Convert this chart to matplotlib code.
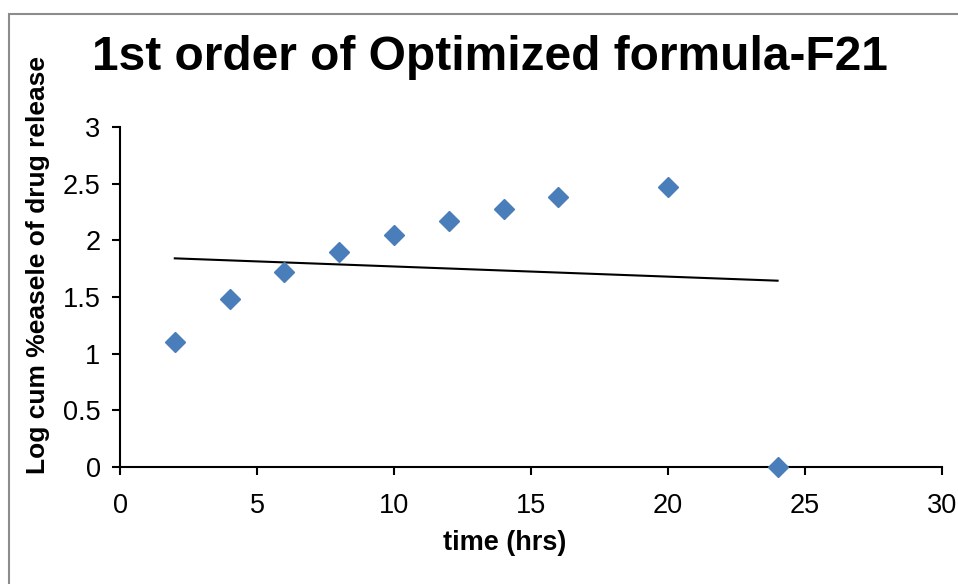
import numpy as np
import matplotlib.pyplot as plt
from matplotlib.patches import Rectangle

plt.rcParams['font.family'] = ['Liberation Sans', 'DejaVu Sans']

# data
time_hrs = [2, 4, 6, 8, 10, 12, 14, 16, 20, 24]
log_release = [1.10, 1.48, 1.72, 1.90, 2.05, 2.17, 2.28, 2.38, 2.47, 0.0]
x_ticks = [0, 5, 10, 15, 20, 25, 30]
y_ticks = [0, 0.5, 1, 1.5, 2, 2.5, 3]

W, H = 958, 584
fig = plt.figure(figsize=(W / 100, H / 100), dpi=100)

# chart-area border (runs off the right and bottom edges)
fig.patches.append(Rectangle((9 / W, -0.05), 1.2, (H - 14) / H + 0.05,
                             transform=fig.transFigure, fill=False,
                             edgecolor='#8c8c8c', linewidth=1.5))

ax = fig.add_axes([120 / W, (H - 467) / H, (942 - 120) / W, (467 - 127) / H])

ax.plot(time_hrs, log_release, linestyle='none', marker='D', markersize=10,
        color='#4a7ebb', markeredgecolor='#4a7ebb', zorder=3, clip_on=False)

# linear trendline
m, b = np.polyfit(time_hrs, log_release, 1)
xs = np.array([min(time_hrs), max(time_hrs)])
ax.plot(xs, m * xs + b, color='black', linewidth=1.5)

ax.set_xlim(0, 30)
ax.set_ylim(0, 3)
ax.set_xticks(x_ticks)
ax.set_yticks(y_ticks)
ax.set_xticklabels([str(t) for t in x_ticks])
ax.set_yticklabels([f'{t:g}' for t in y_ticks])

for s in ['top', 'right']:
    ax.spines[s].set_visible(False)
for s in ['left', 'bottom']:
    ax.spines[s].set_linewidth(1.5)
ax.tick_params(direction='out', length=6, width=1.5, labelsize=19.5)
ax.tick_params(axis='x', pad=13)
ax.tick_params(axis='y', pad=8)

ax.set_xlabel('time (hrs)', fontsize=19.5, fontweight='bold', va='center')
ax.xaxis.set_label_coords(0.468, -0.2235)
ax.set_ylabel('Log cum %easele of drug release', fontsize=19,
              fontweight='bold', va='center', ha='center')
ax.yaxis.set_label_coords(-0.0998, 0.594)

fig.text(490 / W, 1 - 57 / H, '1st order of Optimized formula-F21',
         fontsize=34.5, fontweight='bold', ha='center', va='center')

fig.savefig('out.png', dpi=100)
